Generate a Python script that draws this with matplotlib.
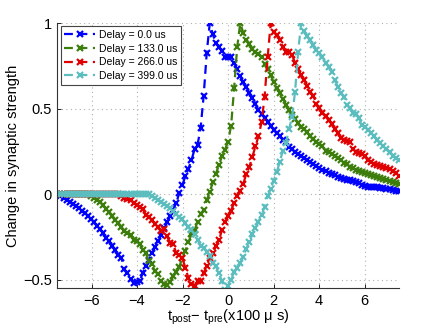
import numpy as np
import matplotlib
matplotlib.use("Agg")
import matplotlib.pyplot as plt

plt.rcParams['font.family'] = ['Liberation Sans', 'DejaVu Sans']
plt.rcParams['mathtext.default'] = 'regular'

# spike-timing difference grid, in units of 100 us
t_diff = np.linspace(-7.5, 7.5, 113)

delays_us = [0.0, 133.0, 266.0, 399.0]

dw_delay_0 = [
    0.000, -0.010, -0.022, -0.033, -0.043, -0.055, -0.068, -0.080, -0.095, -0.110,
    -0.125, -0.145, -0.162, -0.185, -0.205, -0.225, -0.255, -0.275, -0.300, -0.325,
    -0.355, -0.370, -0.440, -0.460, -0.495, -0.520, -0.515, -0.510, -0.460, -0.420,
    -0.385, -0.345, -0.310, -0.275, -0.240, -0.200, -0.165, -0.125, -0.090, -0.050,
    0.006, 0.054, 0.105, 0.150, 0.200, 0.262, 0.290, 0.388, 0.575, 0.825,
    1.000, 0.935, 0.885, 0.860, 0.840, 0.805, 0.805, 0.805, 0.770, 0.730,
    0.690, 0.655, 0.625, 0.595, 0.565, 0.530, 0.490, 0.470, 0.445, 0.425,
    0.400, 0.378, 0.358, 0.338, 0.320, 0.303, 0.278, 0.262, 0.248, 0.238,
    0.222, 0.214, 0.200, 0.190, 0.176, 0.163, 0.152, 0.144, 0.136, 0.127,
    0.119, 0.110, 0.101, 0.093, 0.088, 0.086, 0.083, 0.076, 0.069, 0.063,
    0.057, 0.050, 0.044, 0.041, 0.041, 0.040, 0.037, 0.035, 0.032, 0.029,
    0.026, 0.022, 0.018,
]

dw_delay_133 = [
    0.000, 0.000, 0.000, 0.000, 0.000, 0.000, 0.000, 0.000, 0.000, 0.000,
    0.000, -0.010, -0.020, -0.032, -0.045, -0.065, -0.085, -0.105, -0.125, -0.150,
    -0.168, -0.190, -0.215, -0.228, -0.240, -0.265, -0.275, -0.290, -0.325, -0.345,
    -0.390, -0.410, -0.450, -0.465, -0.505, -0.525, -0.530, -0.515, -0.480, -0.455,
    -0.425, -0.370, -0.330, -0.280, -0.235, -0.210, -0.160, -0.118, -0.092, -0.035,
    0.012, 0.070, 0.120, 0.170, 0.222, 0.260, 0.308, 0.400, 0.620, 0.860,
    1.000, 0.945, 0.905, 0.880, 0.850, 0.830, 0.822, 0.800, 0.760, 0.730,
    0.695, 0.655, 0.620, 0.590, 0.560, 0.525, 0.495, 0.465, 0.440, 0.418,
    0.395, 0.380, 0.362, 0.338, 0.322, 0.308, 0.292, 0.280, 0.255, 0.245,
    0.235, 0.225, 0.210, 0.198, 0.185, 0.175, 0.162, 0.153, 0.144, 0.138,
    0.130, 0.125, 0.119, 0.112, 0.106, 0.100, 0.094, 0.088, 0.082, 0.077,
    0.070, 0.064, 0.058,
]

dw_delay_266 = [
    0.000, 0.000, 0.000, 0.000, 0.000, 0.000, 0.000, 0.000, 0.000, 0.000,
    0.000, 0.000, 0.000, 0.000, 0.000, 0.000, 0.000, 0.000, 0.000, 0.000,
    0.000, -0.010, -0.020, -0.028, -0.035, -0.050, -0.063, -0.075, -0.085, -0.120,
    -0.135, -0.150, -0.175, -0.190, -0.215, -0.205, -0.245, -0.285, -0.290, -0.345,
    -0.355, -0.375, -0.430, -0.490, -0.525, -0.535, -0.510, -0.505, -0.460, -0.420,
    -0.370, -0.345, -0.305, -0.270, -0.210, -0.160, -0.130, -0.095, -0.050, -0.010,
    0.020, 0.060, 0.120, 0.160, 0.220, 0.280, 0.340, 0.420, 0.570, 0.800,
    1.000, 0.950, 0.930, 0.905, 0.860, 0.835, 0.834, 0.815, 0.770, 0.730,
    0.695, 0.670, 0.635, 0.600, 0.575, 0.530, 0.505, 0.478, 0.455, 0.434,
    0.410, 0.380, 0.360, 0.330, 0.318, 0.310, 0.305, 0.265, 0.248, 0.240,
    0.236, 0.225, 0.202, 0.188, 0.178, 0.171, 0.166, 0.160, 0.153, 0.148,
    0.135, 0.122, 0.108,
]

dw_delay_399 = [
    0.000, 0.000, 0.000, 0.000, 0.000, 0.000, 0.000, 0.000, 0.000, 0.000,
    0.000, 0.000, 0.000, 0.000, 0.000, 0.000, 0.000, 0.000, 0.000, 0.000,
    0.000, 0.000, 0.000, 0.000, 0.000, 0.000, 0.000, 0.000, 0.000, 0.000,
    0.000, -0.010, -0.022, -0.035, -0.043, -0.055, -0.068, -0.082, -0.100, -0.115,
    -0.135, -0.145, -0.170, -0.190, -0.210, -0.235, -0.265, -0.300, -0.315, -0.335,
    -0.360, -0.400, -0.420, -0.460, -0.510, -0.560, -0.535, -0.500, -0.455, -0.433,
    -0.400, -0.365, -0.320, -0.280, -0.235, -0.195, -0.160, -0.120, -0.075, -0.010,
    0.030, 0.080, 0.130, 0.190, 0.255, 0.300, 0.380, 0.450, 0.600, 0.830,
    1.000, 0.955, 0.925, 0.900, 0.875, 0.845, 0.825, 0.805, 0.765, 0.745,
    0.718, 0.670, 0.630, 0.595, 0.570, 0.525, 0.505, 0.478, 0.468, 0.445,
    0.405, 0.392, 0.378, 0.360, 0.338, 0.318, 0.300, 0.282, 0.262, 0.245,
    0.226, 0.212, 0.198,
]

series = [dw_delay_0, dw_delay_133, dw_delay_266, dw_delay_399]
colors = ['#0000ff', '#3c7d0c', '#e00000', '#5cbdbf']

fig = plt.figure(figsize=(4.4, 3.29), dpi=100)
ax = fig.add_axes([0.1305, 0.1237, 0.7755, 0.8055])

for delay, dw, c in zip(delays_us, series, colors):
    ax.plot(t_diff, dw, linestyle=(0, (4, 2.5)), color=c, linewidth=1.6,
            marker='x', markersize=4.5, markeredgewidth=1.6,
            label='Delay = %.1f us' % delay, clip_on=True)

ax.set_xlim(-7.5, 7.5)
ax.set_ylim(-0.55, 1.0)
ax.set_xticks([-6, -4, -2, 0, 2, 4, 6])
ax.set_yticks([-0.5, 0, 0.5, 1])
ax.set_yticklabels(['\u22120.5', '0', '0.5', '1'])
ax.grid(True, linestyle=(0, (1, 3)), color='#b0b0b0', linewidth=0.8)
ax.set_axisbelow(True)
for side in ('top', 'right'):
    ax.spines[side].set_visible(False)
for side in ('left', 'bottom'):
    ax.spines[side].set_color('#333333')
    ax.spines[side].set_linewidth(0.8)
ax.tick_params(direction='in', length=3, width=0.7, labelsize=10.5, pad=4,
               colors='#222222', labelcolor='black')

ax.set_ylabel('Change in synaptic strength', fontsize=10.5, labelpad=2)
ax.set_xlabel(r'$t_{post}$$-$ $t_{pre}$(x100 $\mu$ s)', fontsize=10.5, labelpad=0)

leg = ax.legend(loc='upper left', fontsize=7.5, handlelength=3.0,
                handletextpad=0.3, borderpad=0.35, labelspacing=0.35,
                borderaxespad=0.3, fancybox=False, framealpha=1,
                edgecolor='#444444')
leg.get_frame().set_linewidth(0.8)

fig.savefig('out.png', dpi=100)
